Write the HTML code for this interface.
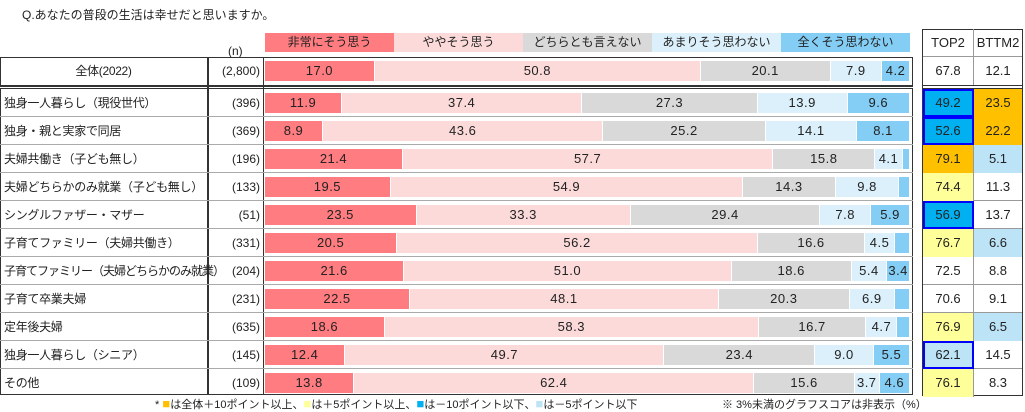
<!DOCTYPE html>
<html><head><meta charset="utf-8"><style>
*{margin:0;padding:0;box-sizing:border-box}
body{width:1025px;height:411px;background:#fff;position:relative;font-family:"Liberation Sans","Noto Sans CJK JP",sans-serif;color:#222;overflow:hidden}
.a{position:absolute}
.lg{position:absolute;top:33px;height:19px;font-size:12px;text-align:center;line-height:19px}
.row{position:absolute;left:0;width:913px;height:28px;border-bottom:1px solid #aaa}
.lab{position:absolute;left:4px;top:0;line-height:28px;font-size:12px;white-space:nowrap;letter-spacing:-0.3px}
.n{position:absolute;left:208px;width:52px;text-align:right;line-height:28px;font-size:12px}
.bar{position:absolute;left:265px;width:645px;top:4px;height:20px;display:flex}
.bar div{height:20px;line-height:20px;text-align:center;font-size:13px;overflow:hidden;border-right:1px solid #fff;letter-spacing:0.5px}
.c1{background:#ff7c80}.c2{background:#fcdada}.c3{background:#d9d9d9}.c4{background:#dbf0fb}.c5{background:#84cef5}
.rt{position:absolute;left:923px;width:99px;height:28px;border-bottom:1px solid #999}
.rt div{position:absolute;top:0;height:28px;line-height:28px;text-align:center;font-size:13px}
.t1{left:0;width:51px;border-right:1px solid #999}.t2{left:51px;width:48px}
.db{background:#00b0f0;outline:2px solid #0000ff;outline-offset:-2px}
.or{background:#ffc000}.ye{background:#ffff99}.lb{background:#bde3f7}
.lbb{background:#bde3f7;outline:2px solid #0000ff;outline-offset:-2px}
</style></head><body>
<div class="a" style="left:22px;top:6px;font-size:12px">Q.あなたの普段の生活は幸せだと思いますか。</div>
<div class="lg c1" style="left:265px;width:129px">非常にそう思う</div>
<div class="lg c2" style="left:394px;width:129px">ややそう思う</div>
<div class="lg c3" style="left:523px;width:129px">どちらとも言えない</div>
<div class="lg c4" style="left:652px;width:129px">あまりそう思わない</div>
<div class="lg c5" style="left:781px;width:129px">全くそう思わない</div>
<div class="a" style="left:228px;top:44px;font-size:12px">(n)</div>

<div class="a" style="left:0;top:57px;width:913px;height:29px;border:1.5px solid #333"></div>
<div class="a" style="left:0;top:86px;width:913px;height:3px;border-top:1px solid #333;border-bottom:1px solid #333"></div>
<div class="a" style="left:0;top:89px;width:913px;height:306px;border:1.5px solid #333;border-top:none"></div>
<div class="a" style="left:207px;top:57px;width:2px;height:338px;background:#333"></div>
<div class="a" style="left:263px;top:57px;width:1px;height:338px;background:#333"></div>

<div class="row" style="top:57px;border:none"><div class="lab" style="left:0;width:207px;text-align:center">全体(2022)</div><div class="n">(2,800)</div>
<div class="bar"><div class="c1" style="flex:17.0">17.0</div><div class="c2" style="flex:50.8">50.8</div><div class="c3" style="flex:20.1">20.1</div><div class="c4" style="flex:7.9">7.9</div><div class="c5" style="flex:4.2">4.2</div></div></div>

<div class="row" style="top:89px"><div class="lab">独身一人暮らし（現役世代）</div><div class="n">(396)</div>
<div class="bar"><div class="c1" style="flex:11.9">11.9</div><div class="c2" style="flex:37.4">37.4</div><div class="c3" style="flex:27.3">27.3</div><div class="c4" style="flex:13.9">13.9</div><div class="c5" style="flex:9.6">9.6</div></div></div>
<div class="row" style="top:117px"><div class="lab">独身・親と実家で同居</div><div class="n">(369)</div>
<div class="bar"><div class="c1" style="flex:8.9">8.9</div><div class="c2" style="flex:43.6">43.6</div><div class="c3" style="flex:25.2">25.2</div><div class="c4" style="flex:14.1">14.1</div><div class="c5" style="flex:8.1">8.1</div></div></div>
<div class="row" style="top:145px"><div class="lab">夫婦共働き（子ども無し）</div><div class="n">(196)</div>
<div class="bar"><div class="c1" style="flex:21.4">21.4</div><div class="c2" style="flex:57.7">57.7</div><div class="c3" style="flex:15.8">15.8</div><div class="c4" style="flex:4.1">4.1</div><div class="c5" style="flex:1.0"></div></div></div>
<div class="row" style="top:173px"><div class="lab">夫婦どちらかのみ就業（子ども無し）</div><div class="n">(133)</div>
<div class="bar"><div class="c1" style="flex:19.5">19.5</div><div class="c2" style="flex:54.9">54.9</div><div class="c3" style="flex:14.3">14.3</div><div class="c4" style="flex:9.8">9.8</div><div class="c5" style="flex:1.5"></div></div></div>
<div class="row" style="top:201px"><div class="lab">シングルファザー・マザー</div><div class="n">(51)</div>
<div class="bar"><div class="c1" style="flex:23.5">23.5</div><div class="c2" style="flex:33.3">33.3</div><div class="c3" style="flex:29.4">29.4</div><div class="c4" style="flex:7.8">7.8</div><div class="c5" style="flex:5.9">5.9</div></div></div>
<div class="row" style="top:229px"><div class="lab">子育てファミリー（夫婦共働き）</div><div class="n">(331)</div>
<div class="bar"><div class="c1" style="flex:20.5">20.5</div><div class="c2" style="flex:56.2">56.2</div><div class="c3" style="flex:16.6">16.6</div><div class="c4" style="flex:4.5">4.5</div><div class="c5" style="flex:2.2"></div></div></div>
<div class="row" style="top:257px"><div class="lab" style="letter-spacing:-1px">子育てファミリー（夫婦どちらかのみ就業）</div><div class="n">(204)</div>
<div class="bar"><div class="c1" style="flex:21.6">21.6</div><div class="c2" style="flex:51.0">51.0</div><div class="c3" style="flex:18.6">18.6</div><div class="c4" style="flex:5.4">5.4</div><div class="c5" style="flex:3.4">3.4</div></div></div>
<div class="row" style="top:285px"><div class="lab">子育て卒業夫婦</div><div class="n">(231)</div>
<div class="bar"><div class="c1" style="flex:22.5">22.5</div><div class="c2" style="flex:48.1">48.1</div><div class="c3" style="flex:20.3">20.3</div><div class="c4" style="flex:6.9">6.9</div><div class="c5" style="flex:2.2"></div></div></div>
<div class="row" style="top:313px"><div class="lab">定年後夫婦</div><div class="n">(635)</div>
<div class="bar"><div class="c1" style="flex:18.6">18.6</div><div class="c2" style="flex:58.3">58.3</div><div class="c3" style="flex:16.7">16.7</div><div class="c4" style="flex:4.7">4.7</div><div class="c5" style="flex:1.8"></div></div></div>
<div class="row" style="top:341px"><div class="lab">独身一人暮らし（シニア）</div><div class="n">(145)</div>
<div class="bar"><div class="c1" style="flex:12.4">12.4</div><div class="c2" style="flex:49.7">49.7</div><div class="c3" style="flex:23.4">23.4</div><div class="c4" style="flex:9.0">9.0</div><div class="c5" style="flex:5.5">5.5</div></div></div>
<div class="row" style="top:369px;border:none"><div class="lab">その他</div><div class="n">(109)</div>
<div class="bar"><div class="c1" style="flex:13.8">13.8</div><div class="c2" style="flex:62.4">62.4</div><div class="c3" style="flex:15.6">15.6</div><div class="c4" style="flex:3.7">3.7</div><div class="c5" style="flex:4.6">4.6</div></div></div>

<div class="a" style="left:922px;top:29px;width:101px;height:367px;border:1.5px solid #333"></div>
<div class="rt" style="top:29px"><div class="t1">TOP2</div><div class="t2">BTTM2</div></div>
<div class="rt" style="top:57px;border-bottom:none"><div class="t1">67.8</div><div class="t2">12.1</div></div>
<div class="a" style="left:922px;top:85px;width:101px;height:4px;border-top:1.5px solid #333;border-bottom:1px solid #333"></div>
<div class="rt" style="top:89px"><div class="t1 db">49.2</div><div class="t2 or">23.5</div></div>
<div class="rt" style="top:117px"><div class="t1 db">52.6</div><div class="t2 or">22.2</div></div>
<div class="rt" style="top:145px"><div class="t1 or">79.1</div><div class="t2 lb">5.1</div></div>
<div class="rt" style="top:173px"><div class="t1 ye">74.4</div><div class="t2">11.3</div></div>
<div class="rt" style="top:201px"><div class="t1 db">56.9</div><div class="t2">13.7</div></div>
<div class="rt" style="top:229px"><div class="t1 ye">76.7</div><div class="t2 lb">6.6</div></div>
<div class="rt" style="top:257px"><div class="t1">72.5</div><div class="t2">8.8</div></div>
<div class="rt" style="top:285px"><div class="t1">70.6</div><div class="t2">9.1</div></div>
<div class="rt" style="top:313px"><div class="t1 ye">76.9</div><div class="t2 lb">6.5</div></div>
<div class="rt" style="top:341px"><div class="t1 lbb">62.1</div><div class="t2">14.5</div></div>
<div class="rt" style="top:369px;border:none"><div class="t1 ye">76.1</div><div class="t2">8.3</div></div>

<div class="a" style="left:155px;top:396px;font-size:11px;white-space:nowrap">* <span style="color:#ffc000;font-size:13px">■</span>は全体＋10ポイント以上、<span style="color:#ffff99;font-size:13px">■</span>は＋5ポイント以上、<span style="color:#00b0f0;font-size:13px">■</span>は－10ポイント以下、<span style="color:#bde3f7;font-size:13px">■</span>は－5ポイント以下</div>
<div class="a" style="left:722px;top:396px;font-size:11px;white-space:nowrap">※ 3%未満のグラフスコアは非表示（%）</div>
</body></html>
